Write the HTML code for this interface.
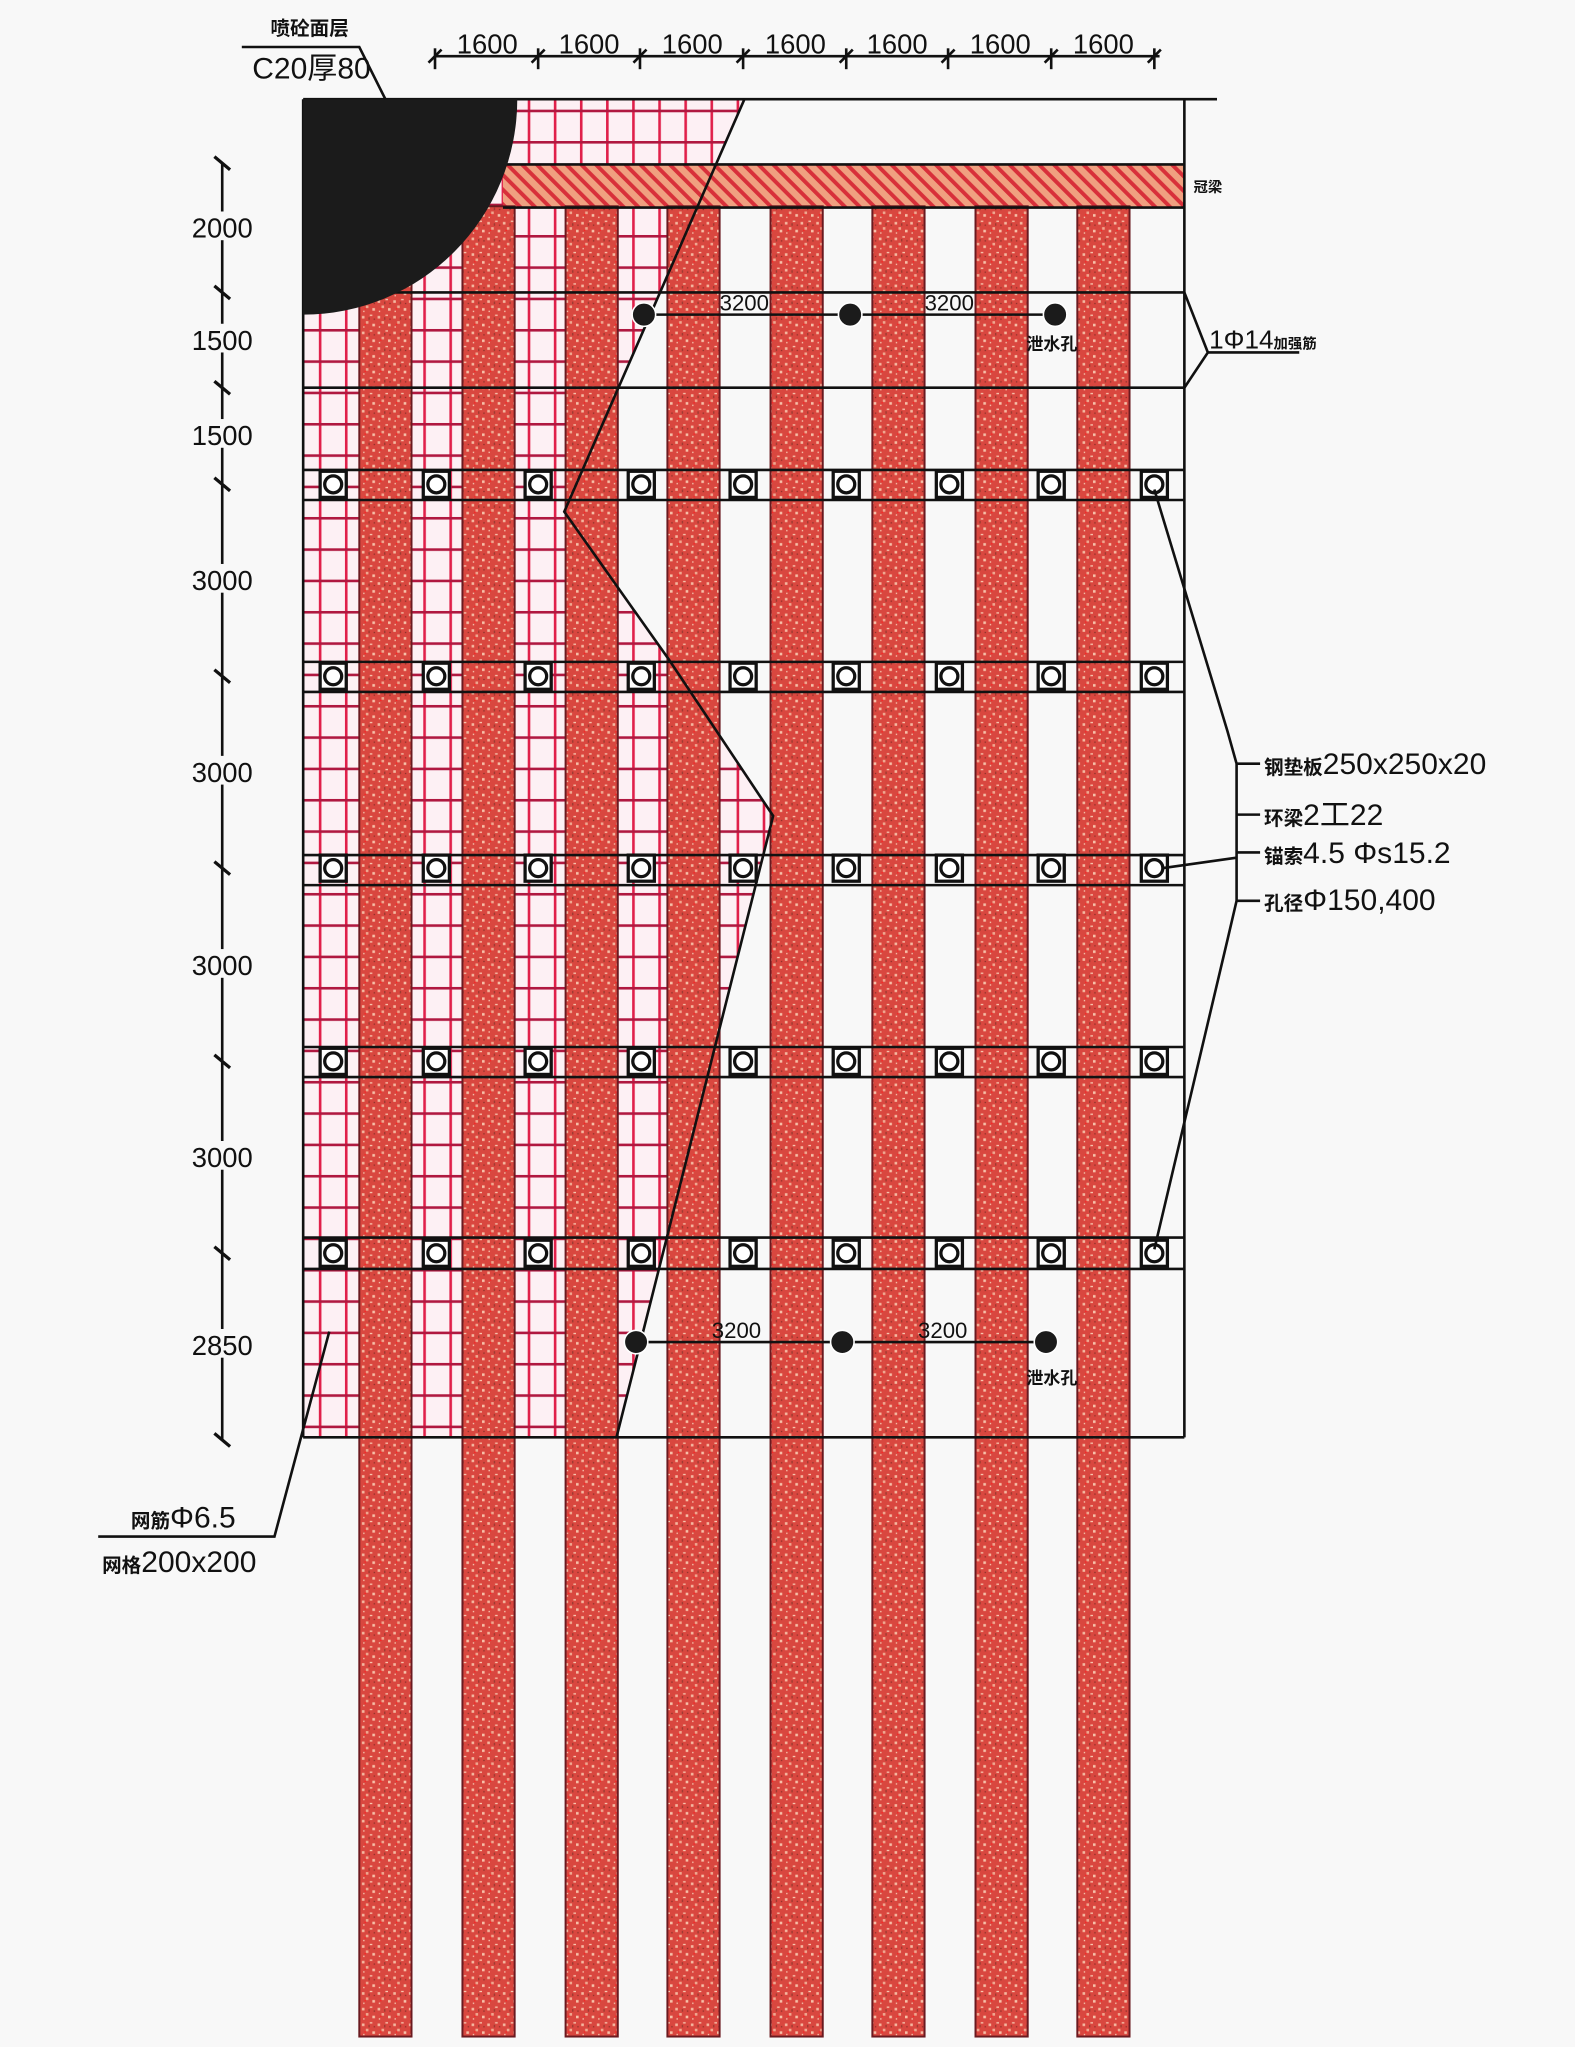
<!DOCTYPE html>
<html><head><meta charset="utf-8"><style>
html,body{margin:0;padding:0;background:#f8f8f8;}
svg{display:block}
text{font-family:"Liberation Sans","Noto Sans CJK SC",sans-serif;fill:#111}
</style></head><body>
<svg width="1575" height="2047" viewBox="0 0 1206 1568" xmlns="http://www.w3.org/2000/svg">
<defs>
<pattern id="sp" width="12" height="12" patternUnits="userSpaceOnUse">
<rect width="12" height="12" fill="#d9473f"/>
<rect x="1" y="2" width="2" height="2" fill="#f4b8a0"/>
<rect x="7" y="1" width="2" height="1" fill="#f8c8b0"/>
<rect x="4" y="6" width="2" height="2" fill="#f0a890"/>
<rect x="9" y="8" width="2" height="2" fill="#f6c0a8"/>
<rect x="2" y="10" width="1" height="1" fill="#fbd0b8"/>
<rect x="6" y="3" width="1" height="2" fill="#9a3a30"/>
<rect x="10" y="4" width="1" height="1" fill="#8a3028"/>
<rect x="3" y="8" width="1" height="1" fill="#ff2020"/>
</pattern>
<pattern id="hatch" width="8" height="8" patternUnits="userSpaceOnUse" patternTransform="rotate(-45)">
<rect width="8" height="8" fill="#f0a080"/>
<rect width="3" height="8" fill="#d8303a"/>
</pattern>
<pattern id="mesh" width="20" height="24" patternUnits="userSpaceOnUse" x="244" y="84">
<rect width="20" height="24" fill="#fdf0f4"/>
<rect x="0" y="0" width="2" height="24" fill="#e0204a"/>
<rect x="0" y="0" width="20" height="2" fill="#b01840"/>
</pattern>
<clipPath id="mc"><polygon points="232,76 570,76 432,392 512,505 592,625 472,1101 232,1101"/></clipPath>
<g id="row" fill="#fff" stroke="#111" stroke-width="2.5">
<rect x="245" y="-10" width="20" height="20"/><circle cx="255" cy="0" r="6.5"/>
<rect x="324" y="-10" width="20" height="20"/><circle cx="334" cy="0" r="6.5"/>
<rect x="402" y="-10" width="20" height="20"/><circle cx="412" cy="0" r="6.5"/>
<rect x="481" y="-10" width="20" height="20"/><circle cx="491" cy="0" r="6.5"/>
<rect x="559" y="-10" width="20" height="20"/><circle cx="569" cy="0" r="6.5"/>
<rect x="638" y="-10" width="20" height="20"/><circle cx="648" cy="0" r="6.5"/>
<rect x="717" y="-10" width="20" height="20"/><circle cx="727" cy="0" r="6.5"/>
<rect x="795" y="-10" width="20" height="20"/><circle cx="805" cy="0" r="6.5"/>
<rect x="874" y="-10" width="20" height="20"/><circle cx="884" cy="0" r="6.5"/>
</g>
<g id="tk" stroke="#111" stroke-width="2"><line x1="-5" y1="5" x2="5" y2="-5"/><line x1="0" y1="-6" x2="0" y2="10"/></g>
<g id="lt" stroke="#111" stroke-width="2.5"><line x1="-6" y1="-5" x2="6" y2="5"/></g>
</defs>
<rect width="1206" height="1568" fill="#f8f8f8"/>
<rect x="232" y="76" width="380" height="1025" fill="url(#mesh)" clip-path="url(#mc)"/>
<rect x="385" y="126" width="522" height="33" fill="url(#hatch)"/>
<g stroke="#6a1a20" stroke-width="1.5" fill="url(#sp)">
<rect x="275" y="158" width="40" height="1402"/>
<rect x="354" y="158" width="40" height="1402"/>
<rect x="433" y="158" width="40" height="1402"/>
<rect x="511" y="158" width="40" height="1402"/>
<rect x="590" y="158" width="40" height="1402"/>
<rect x="668" y="158" width="40" height="1402"/>
<rect x="747" y="158" width="40" height="1402"/>
<rect x="825" y="158" width="40" height="1402"/>
</g>
<g stroke="#111" stroke-width="2" fill="none">
<line x1="232" y1="76" x2="932" y2="76"/>
<line x1="232" y1="76" x2="232" y2="1101"/>
<line x1="907" y1="76" x2="907" y2="1101"/>
<line x1="232" y1="1101" x2="907" y2="1101"/>
<line x1="385" y1="126" x2="907" y2="126"/>
<line x1="385" y1="159" x2="907" y2="159"/>
<line x1="232" y1="224" x2="907" y2="224"/>
<line x1="232" y1="297" x2="907" y2="297"/>
<line x1="232" y1="360" x2="907" y2="360"/><line x1="232" y1="383" x2="907" y2="383"/>
<line x1="232" y1="507" x2="907" y2="507"/><line x1="232" y1="530" x2="907" y2="530"/>
<line x1="232" y1="655" x2="907" y2="655"/><line x1="232" y1="678" x2="907" y2="678"/>
<line x1="232" y1="802" x2="907" y2="802"/><line x1="232" y1="825" x2="907" y2="825"/>
<line x1="232" y1="948" x2="907" y2="948"/><line x1="232" y1="972" x2="907" y2="972"/>
<line x1="493" y1="241" x2="808" y2="241"/>
<line x1="487" y1="1028" x2="801" y2="1028"/>
<polyline points="570,76 432,392 512,505 592,625 472,1101"/>
</g>
<path d="M232,76 L396,76 A164,165 0 0 1 232,241 Z" fill="#1b1b1b"/>
<use href="#row" transform="translate(0,371)"/>
<use href="#row" transform="translate(0,518)"/>
<use href="#row" transform="translate(0,665)"/>
<use href="#row" transform="translate(0,813)"/>
<use href="#row" transform="translate(0,960)"/>
<g fill="#1b1b1b" stroke="#fff" stroke-width="1.2">
<circle cx="493" cy="241" r="9"/><circle cx="651" cy="241" r="9"/><circle cx="808" cy="241" r="9"/>
<circle cx="487" cy="1028" r="9"/><circle cx="645" cy="1028" r="9"/><circle cx="801" cy="1028" r="9"/>
</g>
<g font-size="17">
<text x="551" y="238">3200</text><text x="708" y="238">3200</text>
<text x="545" y="1025">3200</text><text x="703" y="1025">3200</text>
</g>
<g font-size="13" font-weight="bold">
<text x="786" y="268">泄水孔</text><text x="786" y="1060">泄水孔</text>
<text x="914" y="147" font-size="11">冠梁</text>
</g>
<line x1="333" y1="43" x2="888" y2="43" stroke="#111" stroke-width="2"/>
<use href="#tk" x="333" y="43"/><use href="#tk" x="412" y="43"/><use href="#tk" x="490" y="43"/><use href="#tk" x="569" y="43"/><use href="#tk" x="648" y="43"/><use href="#tk" x="726" y="43"/><use href="#tk" x="805" y="43"/><use href="#tk" x="884" y="43"/>
<g font-size="21" text-anchor="middle">
<text x="373" y="41">1600</text><text x="451" y="41">1600</text><text x="530" y="41">1600</text><text x="609" y="41">1600</text><text x="687" y="41">1600</text><text x="766" y="41">1600</text><text x="845" y="41">1600</text>
</g>
<line x1="170" y1="125" x2="170" y2="1103" stroke="#111" stroke-width="2"/>
<use href="#lt" x="170" y="125"/><use href="#lt" x="170" y="224"/><use href="#lt" x="170" y="297"/><use href="#lt" x="170" y="371"/><use href="#lt" x="170" y="518"/><use href="#lt" x="170" y="665"/><use href="#lt" x="170" y="813"/><use href="#lt" x="170" y="960"/><use href="#lt" x="170" y="1103"/>
<g font-size="21" text-anchor="middle">
<rect x="143" y="162" width="54" height="22" fill="#f8f8f8"/><text x="170" y="182">2000</text>
<rect x="143" y="248" width="54" height="22" fill="#f8f8f8"/><text x="170" y="268">1500</text>
<rect x="143" y="321" width="54" height="22" fill="#f8f8f8"/><text x="170" y="341">1500</text>
<rect x="143" y="432" width="54" height="22" fill="#f8f8f8"/><text x="170" y="452">3000</text>
<rect x="143" y="579" width="54" height="22" fill="#f8f8f8"/><text x="170" y="599">3000</text>
<rect x="143" y="727" width="54" height="22" fill="#f8f8f8"/><text x="170" y="747">3000</text>
<rect x="143" y="874" width="54" height="22" fill="#f8f8f8"/><text x="170" y="894">3000</text>
<rect x="143" y="1018" width="54" height="22" fill="#f8f8f8"/><text x="170" y="1038">2850</text>
</g>
<polyline points="185,36 275,36 295,76" stroke="#111" stroke-width="2" fill="none"/>
<text x="207" y="27" font-size="15" font-weight="bold">喷砼面层</text>
<text x="193" y="60" font-size="23">C20厚80</text>
<g stroke="#111" stroke-width="2" fill="none">
<polyline points="907,224 925,270 907,297"/>
<line x1="925" y1="270" x2="995" y2="270"/>
</g>
<text x="926" y="267" font-size="20">1Φ14<tspan font-size="11" font-weight="bold">加强筋</tspan></text>
<g stroke="#111" stroke-width="2" fill="none">
<polyline points="884,375 940,560 947,585 947,690 940,720 884,957"/>
<line x1="947" y1="585" x2="965" y2="585"/>
<line x1="947" y1="624" x2="965" y2="624"/>
<line x1="947" y1="653" x2="965" y2="653"/>
<line x1="947" y1="690" x2="965" y2="690"/>
<line x1="890" y1="665" x2="947" y2="657"/>
</g>
<g font-size="23">
<text x="968" y="593"><tspan font-size="15" font-weight="bold">钢垫板</tspan>250x250x20</text>
<text x="968" y="632"><tspan font-size="15" font-weight="bold">环梁</tspan>2工22</text>
<text x="968" y="661"><tspan font-size="15" font-weight="bold">锚索</tspan>4.5 Φs15.2</text>
<text x="968" y="697"><tspan font-size="15" font-weight="bold">孔径</tspan>Φ150,400</text>
</g>
<polyline points="75,1177 210,1177 252,1020" stroke="#111" stroke-width="2" fill="none"/>
<text x="100" y="1170" font-size="23"><tspan font-size="15" font-weight="bold">网筋</tspan>Φ6.5</text>
<text x="78" y="1204" font-size="23"><tspan font-size="15" font-weight="bold">网格</tspan>200x200</text>
</svg>
</body></html>
